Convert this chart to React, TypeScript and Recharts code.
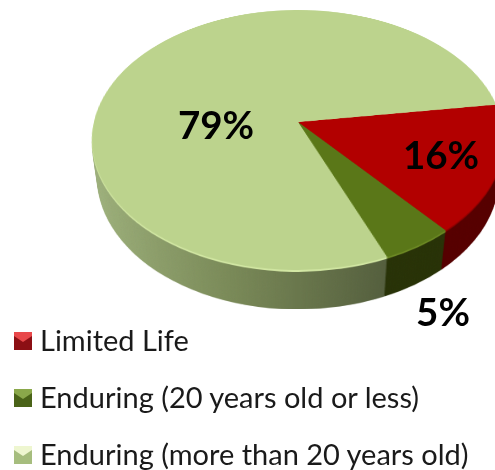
import React from "react";
import { PieChart, Pie, Legend } from "recharts";

const NAMES = ["Limited Life", "Enduring (20 years old or less)", "Enduring (more than 20 years old)"];
const VALUES = [16, 5, 79];
const TOP_COLORS = ["#b20000", "#5a7718", "#bcd38d"];
const SIDE_COLORS = ["#560000", "#283207", "url(#sideLight)"];
const RIM_COLORS = ["#8a0000", "#6d8a24", "#d3e8a4"];
const SWATCH_LIGHT = ["#e8484a", "#8aa84a", "#eef6d0"];
const SWATCH_DARK = ["#8c0f14", "#4a6318", "#a6bd7e"];
const LABEL_X = [441, 443, 216];
const LABEL_Y = [159, 316, 129];
const DEPTHS = Array.from({ length: 50 }, (_, i) => 50 - i);

const W = 495;
const H = 470;
const CX = 298;
const CY = 122;
const R = 204;
const START = 8;
const PAD = 150;

const rows = (colors: string[]) =>
  NAMES.map((name, i) => ({ name, value: VALUES[i], fill: colors[i] }));

function Layer({ depth }: { depth: number }) {
  const colors = depth === 0 ? TOP_COLORS : depth <= 2 ? RIM_COLORS : SIDE_COLORS;
  return (
    <div
      style={{
        position: "absolute",
        left: 0,
        top: -PAD,
        width: W + PAD,
        height: H + PAD,
        transformOrigin: `${CX}px ${CY + PAD}px`,
        transform: `perspective(1150px) rotateX(51.3deg) translateZ(${-depth}px)`,
      }}
    >
      <PieChart width={W + PAD} height={H + PAD} margin={{ top: 0, right: 0, bottom: 0, left: 0 }}>
        <defs>
          <linearGradient id="sideLight" x1="0" y1="0" x2="1" y2="0">
            <stop offset="0" stopColor="#a0b37e" />
            <stop offset="0.35" stopColor="#7a8a58" />
            <stop offset="0.72" stopColor="#515b3b" />
            <stop offset="1" stopColor="#515b3b" />
          </linearGradient>
        </defs>
        <Pie
          data={rows(colors)}
          dataKey="value"
          nameKey="name"
          cx={CX}
          cy={CY + PAD}
          innerRadius={0}
          outerRadius={R}
          startAngle={START}
          endAngle={START - 360}
          stroke="none"
          isAnimationActive={false}
          labelLine={false}
        />
      </PieChart>
    </div>
  );
}

function renderLabel(props: any) {
  const i = props.index;
  return (
    <text
      x={LABEL_X[i]}
      y={LABEL_Y[i]}
      textAnchor="middle"
      dominantBaseline="middle"
      fontFamily="Lato, sans-serif"
      fontWeight={700}
      fontSize={38.5}
      fill="#000000"
    >
      {`${VALUES[i]}%`}
    </text>
  );
}

function LegendBox() {
  return (
    <div style={{ fontFamily: "Lato, sans-serif", fontSize: 29, lineHeight: 1, color: "#1a1a1a" }}>
      {NAMES.map((name, i) => (
        <div key={name} style={{ display: "flex", alignItems: "center", height: 57, whiteSpace: "nowrap" }}>
          <svg width={18} height={18} style={{ marginRight: 8, flex: "none", position: "relative", top: 1 }}>
            <rect width={18} height={18} fill={SWATCH_DARK[i]} />
            <polygon points="0,0 18,0 18,4 9,10 0,4" fill={SWATCH_LIGHT[i]} />
          </svg>
          <span>{name}</span>
        </div>
      ))}
    </div>
  );
}

export default function App() {
  return (
    <div style={{ position: "absolute", left: 0, top: 0, width: W, height: H, overflow: "hidden", background: "#ffffff" }}>
      {DEPTHS.map((d) => (
        <Layer key={d} depth={d} />
      ))}
      <Layer depth={0} />
      <div style={{ position: "absolute", left: 0, top: 0, width: W, height: H }}>
        <PieChart width={W} height={H} margin={{ top: 0, right: 0, bottom: 0, left: 0 }}>
          <Pie
            data={rows(TOP_COLORS)}
            dataKey="value"
            nameKey="name"
            cx={CX}
            cy={CY}
            outerRadius={R}
            startAngle={START}
            endAngle={START - 360}
            fillOpacity={0}
            stroke="none"
            isAnimationActive={false}
            labelLine={false}
            label={renderLabel}
          />
          <Legend
            content={<LegendBox />}
            layout="vertical"
            align="left"
            verticalAlign="top"
            wrapperStyle={{ left: 14, top: 311, width: 480 }}
          />
        </PieChart>
      </div>
    </div>
  );
}
